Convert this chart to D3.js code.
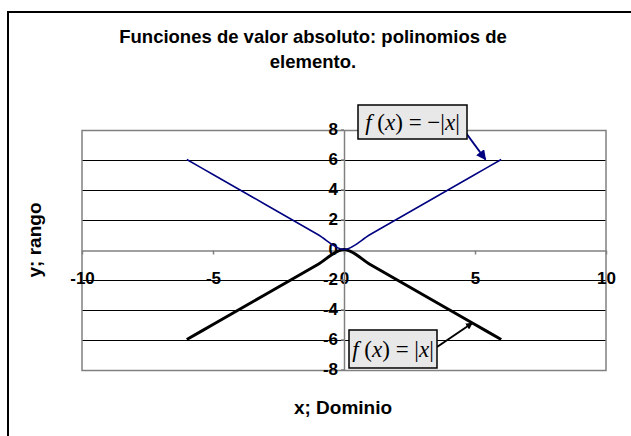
<!DOCTYPE html>
<html>
<head>
<meta charset="utf-8">
<script src="https://cdn.jsdelivr.net/npm/d3@7"></script>
<style>
  body { margin: 0; background: #fff; }
  svg { display: block; }
  text { font-family: "Liberation Sans", Arial, sans-serif; }
</style>
</head>
<body>
<svg></svg>
<script>
// data
const xValues = [-6, -5, -4, -3, -2, -1, 0, 1, 2, 3, 4, 5, 6];
const blueValues = [6, 5, 4, 3, 2, 1, 0, 1, 2, 3, 4, 5, 6];
const blackValues = [-6, -5, -4, -3, -2, -1, 0, -1, -2, -3, -4, -5, -6];
const xTicks = [-10, -5, 0, 5, 10];
const yTicks = [-8, -6, -4, -2, 0, 2, 4, 6, 8];
const titleLines = ["Funciones de valor absoluto: polinomios de", "elemento."];

const width = 631;
const height = 436;

const svg = d3.select("svg").attr("width", width).attr("height", height);

const xScale = d3.scaleLinear().domain([-10, 10]).range([82, 606]);
const yScale = d3.scaleLinear().domain([-8, 8]).range([369.5, 129.5]);

// outer frame
svg
  .append("rect")
  .attr("x", 8)
  .attr("y", 12)
  .attr("width", 640)
  .attr("height", 440)
  .attr("fill", "none")
  .attr("stroke", "#000")
  .attr("stroke-width", 2);

// title
svg
  .append("g")
  .selectAll("text")
  .data(titleLines)
  .enter()
  .append("text")
  .attr("x", 313)
  .attr("y", (d, i) => 43 + i * 25)
  .attr("text-anchor", "middle")
  .attr("font-size", 18.5)
  .attr("font-weight", "bold")
  .text((d) => d);

// horizontal grid lines
svg
  .append("g")
  .selectAll("line")
  .data(yTicks.filter((d) => d !== 0 && Math.abs(d) !== 8))
  .enter()
  .append("line")
  .attr("x1", xScale(-10))
  .attr("x2", xScale(10))
  .attr("y1", (d) => Math.round(yScale(d)) + 0.5)
  .attr("y2", (d) => Math.round(yScale(d)) + 0.5)
  .attr("stroke", "#000")
  .attr("stroke-width", 1);

// plot border
svg
  .append("rect")
  .attr("x", xScale(-10))
  .attr("y", Math.round(yScale(8)) + 0.5)
  .attr("width", xScale(10) - xScale(-10))
  .attr("height", Math.round(yScale(-8)) - Math.round(yScale(8)))
  .attr("fill", "none")
  .attr("stroke", "#808080")
  .attr("stroke-width", 1.5);

// x axis through y = 0
const xAxis = d3
  .axisBottom(xScale)
  .tickValues(xTicks)
  .tickFormat((d) => String(d))
  .tickSize(4)
  .tickSizeOuter(0)
  .tickPadding(17);

const gx = svg
  .append("g")
  .attr("transform", `translate(0, ${Math.round(yScale(0)) + 0.5})`)
  .call(xAxis);
gx.select(".domain").attr("stroke", "#808080").attr("stroke-width", 1.5);
gx.selectAll(".tick line").attr("stroke", "#808080").attr("stroke-width", 1.5);
gx.selectAll(".tick text")
  .attr("font-size", 17)
  .attr("font-weight", "bold")
  .attr("font-family", "Liberation Sans, Arial, sans-serif")
  .attr("fill", "#000");

// y axis through x = 0
const yAxis = d3
  .axisLeft(yScale)
  .tickValues(yTicks)
  .tickFormat((d) => String(d))
  .tickSize(3)
  .tickSizeOuter(0)
  .tickPadding(3);

const gy = svg
  .append("g")
  .attr("transform", `translate(${xScale(0)}, 0)`)
  .call(yAxis);
gy.select(".domain").attr("stroke", "#808080").attr("stroke-width", 1.5);
gy.selectAll(".tick line").attr("stroke", "#808080").attr("stroke-width", 1.5);
gy.selectAll(".tick text")
  .attr("font-size", 17)
  .attr("font-weight", "bold")
  .attr("font-family", "Liberation Sans, Arial, sans-serif")
  .attr("fill", "#000");

// series lines (smoothed like the original)
const line = (vals) =>
  d3
    .line()
    .x((d, i) => xScale(xValues[i]))
    .y((d) => yScale(d))
    .curve(d3.curveCatmullRom.alpha(0))(vals);

svg
  .append("path")
  .attr("d", line(blackValues))
  .attr("fill", "none")
  .attr("stroke", "#000")
  .attr("stroke-width", 3)
  .attr("stroke-linejoin", "round");

svg
  .append("path")
  .attr("d", line(blueValues))
  .attr("fill", "none")
  .attr("stroke", "#000080")
  .attr("stroke-width", 1.5);

// axis titles
svg
  .append("text")
  .attr("x", 343)
  .attr("y", 414)
  .attr("text-anchor", "middle")
  .attr("font-size", 19)
  .attr("font-weight", "bold")
  .text("x; Dominio");

svg
  .append("text")
  .attr("transform", "translate(41, 240) rotate(-90)")
  .attr("text-anchor", "middle")
  .attr("font-size", 19)
  .attr("font-weight", "bold")
  .text("y; rango");

// arrow markers
const defs = svg.append("defs");
const addMarker = (id, color, size) => {
  defs
    .append("marker")
    .attr("id", id)
    .attr("viewBox", "0 0 10 10")
    .attr("refX", 9)
    .attr("refY", 5)
    .attr("markerWidth", size)
    .attr("markerHeight", size)
    .attr("markerUnits", "userSpaceOnUse")
    .attr("orient", "auto")
    .append("path")
    .attr("d", "M0,0 L10,5 L0,10 z")
    .attr("fill", color);
};
addMarker("arrowBlue", "#000080", 10);
addMarker("arrowBlack", "#000", 7);

// callouts
const callout = (box, tip, color, marker, parts) => {
  svg
    .append("line")
    .attr("x1", box.ax)
    .attr("y1", box.ay)
    .attr("x2", xScale(tip[0]))
    .attr("y2", yScale(tip[1]))
    .attr("stroke", color)
    .attr("stroke-width", 2)
    .attr("marker-end", `url(#${marker})`);

  svg
    .append("rect")
    .attr("x", box.x)
    .attr("y", box.y)
    .attr("width", box.w)
    .attr("height", box.h)
    .attr("fill", "#e8e8e8")
    .attr("stroke", "#000")
    .attr("stroke-width", 1.5);

  const t = svg
    .append("text")
    .attr("x", box.x + box.w / 2)
    .attr("y", box.y + box.h / 2 + 8)
    .attr("text-anchor", "middle")
    .attr("font-family", "Liberation Serif, Times New Roman, serif")
    .attr("font-size", 23);
  parts.forEach((p) => {
    t.append("tspan")
      .attr("font-style", p.italic ? "italic" : "normal")
      .attr("font-family", "Liberation Serif, Times New Roman, serif")
      .text(p.s);
  });
};

callout(
  { x: 358, y: 105, w: 109, h: 34, ax: 466, ay: 133 },
  [5.4, 6],
  "#000080",
  "arrowBlue",
  [
    { s: "f", italic: true },
    { s: " (" },
    { s: "x", italic: true },
    { s: ") = \u2212|" },
    { s: "x", italic: true },
    { s: "|" },
  ]
);

callout(
  { x: 349, y: 330, w: 88, h: 38, ax: 437, ay: 347 },
  [4.9, -4.9],
  "#000",
  "arrowBlack",
  [
    { s: "f", italic: true },
    { s: " (" },
    { s: "x", italic: true },
    { s: ") = |" },
    { s: "x", italic: true },
    { s: "|" },
  ]
);
</script>
</body>
</html>
